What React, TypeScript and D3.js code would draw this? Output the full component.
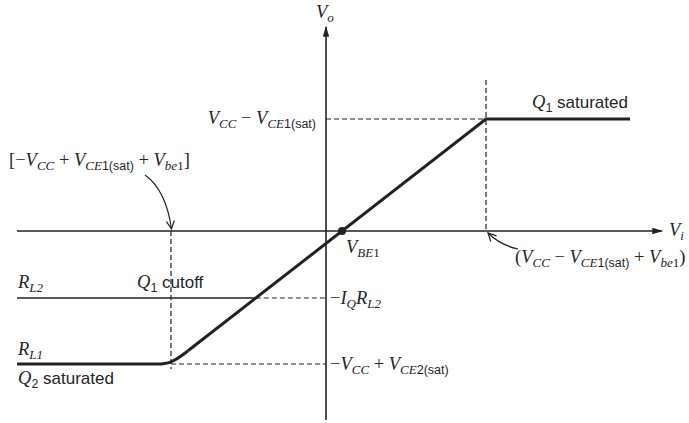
import React from 'react'
import * as d3 from 'd3'

// transfer characteristic (arbitrary volt units)
const transferVi = [-15.45, -8.6, -7.75, -6.9, 8.0, 15.2]
const transferVo = [-6.65, -6.65, -6.65, -5.99, 5.6, 5.6]

// break points on the Vi axis: Q1 cutoff, VBE1, Q1 saturation
const viBreaks = [-7.75, 0.8, 8.0]
// levels on the Vo axis: Vcc-Vce1(sat), -IQ*RL2, -Vcc+Vce2(sat)
const voLevels = [5.6, -3.35, -6.65]
// RL2 load line ends
const rl2Vi = [-15.45, -3.51]

const W = 689
const H = 423
const INK = '#222'
const TXT = '#252525'
const SERIF = '"Liberation Serif", "Times New Roman", serif'
const SANS = '"Liberation Sans", Arial, sans-serif'

const x = d3.scaleLinear().domain([-15.45, 16.8]).range([17, 662])
const y = d3.scaleLinear().domain([-9.45, 10.2]).range([420, 27])

type Seg = [string, string, boolean?]
// style codes: i = italic serif, r = roman serif, s = sans

const segStyle = (kind: string, sub: boolean) => {
	if (kind === 's') return { fontFamily: SANS, fontStyle: 'normal', fontSize: sub ? 12.5 : 17 }
	if (kind === 'r') return { fontFamily: SERIF, fontStyle: 'normal', fontSize: sub ? 13 : 18.5 }
	return { fontFamily: SERIF, fontStyle: 'italic', fontSize: sub ? 13 : 18.5 }
}

function Label({ px, py, segs, anchor = 'start' }: { px: number, py: number, segs: Seg[], anchor?: string }) {
	let cur = 0
	return (
		<text x={px} y={py} textAnchor={anchor} fill={TXT}>
			{segs.map((s, i) => {
				const target = s[2] ? 4 : 0
				const dy = target - cur
				cur = target
				const st = segStyle(s[1], !!s[2])
				return (
					<tspan key={i} dy={dy} fontFamily={st.fontFamily} fontStyle={st.fontStyle} fontSize={st.fontSize}>
						{s[0]}
					</tspan>
				)
			})}
		</text>
	)
}

export default function App() {
	const pts: [number, number][] = transferVi.map((v, i) => [x(v), y(transferVo[i])])
	const straight = d3.line()
	const knee = d3.line().curve(d3.curveBasis)

	const flatLow = straight([pts[0], pts[1]])
	const kneePath = knee([pts[1], pts[2], pts[3]])
	const rest = straight([pts[3], pts[4], pts[5]])

	const x0 = x(0)
	const y0 = y(0)
	const dash = '5,3'

	return (
		<svg width={W} height={H} style={{ position: 'absolute', left: 0, top: 0, background: '#fff' }}>
			<defs>
				<marker id="ah" viewBox="0 0 10 6" refX="9" refY="3" markerWidth="11" markerHeight="6.5" markerUnits="userSpaceOnUse" orient="auto">
					<path d="M0,0 L10,3 L0,6 Z" fill={INK} />
				</marker>
				<marker id="open" viewBox="0 0 10 10" refX="9" refY="5" markerWidth="10" markerHeight="10" markerUnits="userSpaceOnUse" orient="auto">
					<path d="M1,1 L9,5 L1,9" fill="none" stroke={INK} strokeWidth={1.2} />
				</marker>
			</defs>

			{/* axes */}
			<line x1={x(-15.45)} y1={y0} x2={x(16.8)} y2={y0} stroke={INK} strokeWidth={1.6} markerEnd="url(#ah)" />
			<line x1={x0} y1={y(-9.45)} x2={x0} y2={y(10.2)} stroke={INK} strokeWidth={1.6} markerEnd="url(#ah)" />

			{/* dashed guides */}
			<line x1={x0} y1={y(voLevels[0])} x2={x(viBreaks[2])} y2={y(voLevels[0])} stroke={INK} strokeWidth={1.2} strokeDasharray={dash} />
			<line x1={x(viBreaks[2])} y1={y(7.55)} x2={x(viBreaks[2])} y2={y0} stroke={INK} strokeWidth={1.2} strokeDasharray={dash} />
			<line x1={x(rl2Vi[1])} y1={y(voLevels[1])} x2={x0} y2={y(voLevels[1])} stroke={INK} strokeWidth={1.2} strokeDasharray={dash} />
			<line x1={x(viBreaks[0])} y1={y(voLevels[2])} x2={x0} y2={y(voLevels[2])} stroke={INK} strokeWidth={1.2} strokeDasharray={dash} />
			<line x1={x(viBreaks[0])} y1={y0} x2={x(viBreaks[0])} y2={y(-6.9)} stroke={INK} strokeWidth={1.2} strokeDasharray={dash} />

			{/* RL2 load line */}
			<line x1={x(rl2Vi[0])} y1={y(voLevels[1])} x2={x(rl2Vi[1])} y2={y(voLevels[1])} stroke={INK} strokeWidth={1.6} />

			{/* transfer curve */}
			<path d={flatLow || ''} fill="none" stroke={INK} strokeWidth={3} />
			<path d={kneePath || ''} fill="none" stroke={INK} strokeWidth={3} />
			<path d={rest || ''} fill="none" stroke={INK} strokeWidth={3} strokeLinejoin="miter" />
			<circle cx={x(viBreaks[1])} cy={y0} r={4} fill={INK} />

			{/* annotation arrows */}
			<path d={`M145,175 Q166,190 ${x(viBreaks[0]) + 0.5},${y0 - 2}`} fill="none" stroke={INK} strokeWidth={1.2} markerEnd="url(#open)" />
			<path d={`M518,249 Q500,245 ${x(viBreaks[2]) + 2},${y0 + 2}`} fill="none" stroke={INK} strokeWidth={1.2} markerEnd="url(#open)" />

			{/* labels */}
			<Label px={316} py={18} segs={[['V', 'i'], ['o', 'i', true]]} />
			<Label px={669} py={236} segs={[['V', 'i'], ['i', 'i', true]]} />
			<Label px={316} py={124} anchor="end" segs={[['V', 'i'], ['CC', 'i', true], [' − ', 'r'], ['V', 'i'], ['CE', 'i', true], ['1(sat)', 's', true]]} />
			<Label px={9} py={166} segs={[['[−', 'r'], ['V', 'i'], ['CC', 'i', true], [' + ', 'r'], ['V', 'i'], ['CE', 'i', true], ['1(sat)', 's', true], [' + ', 'r'], ['V', 'i'], ['be', 'i', true], ['1', 'r', true], [']', 'r']]} />
			<Label px={532} py={108} segs={[['Q', 'i'], ['1', 's', true], [' saturated', 's']]} />
			<Label px={515} py={263} segs={[['(', 'r'], ['V', 'i'], ['CC', 'i', true], [' − ', 'r'], ['V', 'i'], ['CE', 'i', true], ['1(sat)', 's', true], [' + ', 'r'], ['V', 'i'], ['be', 'i', true], ['1', 'r', true], [')', 'r']]} />
			<Label px={346} py={253} segs={[['V', 'i'], ['BE', 'i', true], ['1', 'r', true]]} />
			<Label px={330} py={304} segs={[['−', 'r'], ['I', 'i'], ['Q', 'i', true], ['R', 'i'], ['L2', 'i', true]]} />
			<Label px={330} py={370} segs={[['−', 'r'], ['V', 'i'], ['CC', 'i', true], [' + ', 'r'], ['V', 'i'], ['CE', 'i', true], ['2(sat)', 's', true]]} />
			<Label px={18} py={288} segs={[['R', 'i'], ['L2', 'i', true]]} />
			<Label px={137} py={288} segs={[['Q', 'i'], ['1', 's', true], [' cutoff', 's']]} />
			<Label px={18} py={355} segs={[['R', 'i'], ['L1', 'i', true]]} />
			<Label px={18} py={384} segs={[['Q', 'i'], ['2', 's', true], [' saturated', 's']]} />
		</svg>
	)
}
